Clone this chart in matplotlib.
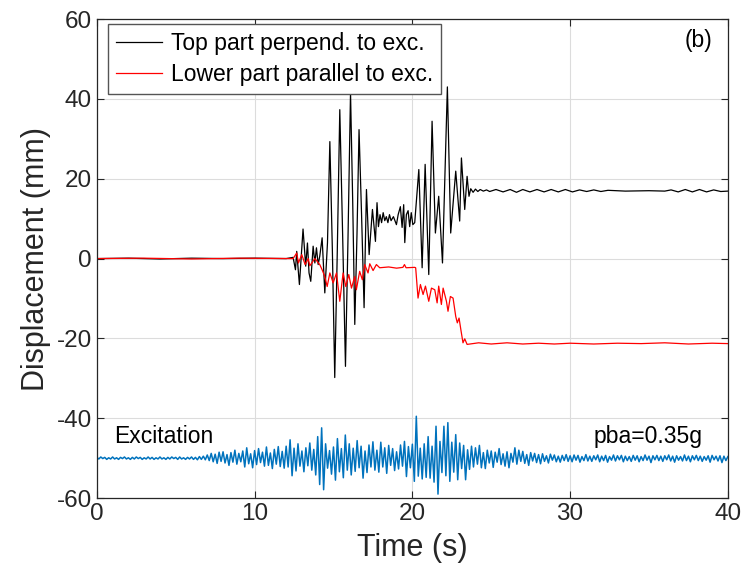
import matplotlib
matplotlib.use('Agg')
import matplotlib.pyplot as plt
import numpy as np

plt.rcParams['font.family'] = ['Liberation Sans', 'DejaVu Sans']
plt.rcParams['axes.unicode_minus'] = False

# top part (perpendicular to excitation): time (s), displacement (mm)
top_t = [0, 2, 4, 6, 8, 10, 12, 12.44, 12.59, 12.67, 12.84, 13.07, 13.24, 13.35, 13.45,
         13.56, 13.71, 13.82, 13.92, 14.03, 14.13, 14.28, 14.45, 14.62, 14.77, 14.93,
         15.08, 15.24, 15.40, 15.58, 15.76, 15.92, 16.08, 16.22, 16.35, 16.49, 16.62,
         16.78, 16.94, 17.09, 17.26, 17.47, 17.66, 17.76, 17.85,
         17.95, 18.05, 18.15, 18.25, 18.35, 18.45, 18.55, 18.65, 18.80, 18.99, 19.10,
         19.24, 19.35, 19.45, 19.52, 19.62, 19.73, 19.83, 19.93, 20.03, 20.15, 20.41,
         20.62, 20.81, 21.04, 21.25, 21.46, 21.67, 21.91, 22.22, 22.43, 22.75, 23.00,
         23.11, 23.32, 23.47, 23.59, 23.70, 23.85, 24.00, 24.15, 24.30, 24.50, 24.70,
         24.90, 25.30, 25.75, 26.20, 26.60, 27.00, 27.45, 27.90, 28.35, 28.80, 29.25,
         29.70, 30.15, 30.60, 31.05, 31.50, 31.95, 32.40, 33.50, 35.00, 36.00, 36.40,
         36.85, 37.30, 37.75, 38.20, 38.65, 39.10, 39.55, 40.0]
top_d = [0.0, 0.1, -0.1, 0.1, 0.0, 0.1, 0.0, 0.3, -2.8, 1.8, -6.5, 7.4, -1.9, 3.9, -3.6,
         -5.7, 3.1, -1.1, 2.7, -1.5, 0.6, 5.2, -8.6, 4.0, 29.3, 2.0,
         -29.8, 1.5, 37.3, 6.0, -27.0, 5.0, 41.6, 14.0, -16.5, 6.0, 32.3,
         11.0, -12.3, 17.3, 1.0, 12.3, 4.3, 14.0, 8.0,
         11.0, 9.0, 11.5, 9.5, 10.5, 9.0, 11.0, 9.5, 10.5, 8.5, 11.0,
         13.0, 7.8, 13.5, 4.0, 11.0, 12.0, 8.0, 11.5, 8.5, 9.0, 22.3,
         -2.3, 23.6, -4.0, 34.4, 6.4, 15.6, -1.1, 43.0, 6.4, 21.9, 9.4,
         25.2, 12.3, 20.6, 15.6, 17.5, 16.6, 17.4, 16.8, 17.3, 16.9, 17.2,
         16.8, 17.3, 16.7, 17.3, 16.6, 17.3, 16.7, 17.3, 16.7, 17.3, 16.7,
         17.3, 16.7, 17.2, 16.8, 17.2, 16.8, 17.1, 16.9, 17.0, 16.9, 17.2,
         16.7, 17.3, 16.7, 17.3, 16.7, 17.2, 16.8, 16.9]

# lower part (parallel to excitation)
low_t = [0, 3, 6, 9, 12.44, 12.67, 12.78, 12.99, 13.2, 13.4, 13.5, 13.82, 14.13, 14.28,
         14.45, 14.60, 14.77, 14.98, 15.19, 15.40, 15.61, 15.78, 15.97, 16.14, 16.35,
         16.45, 16.66, 16.83, 16.98, 17.19, 17.30, 17.51, 17.72, 17.93, 18.5, 19.0,
         19.4, 19.5, 19.6, 20.15, 20.21, 20.30, 20.36, 20.51, 20.68, 20.83, 21.04,
         21.21, 21.42, 21.57, 21.67, 21.84, 21.95, 22.16, 22.26, 22.41, 22.58, 22.75,
         22.85, 22.96, 23.09, 23.21, 23.32, 23.47, 24.2, 25.0, 26.0, 27.0, 28.0, 29.0,
         30.0, 31.5, 33.0, 34.5, 36.0, 37.5, 39.0, 40.0]
low_d = [0.0, 0.1, -0.1, 0.1, 0.0, 1.4, -1.1, 1.0, -1.5, 0.0, -1.8, 0.0, -1.5, -2.8,
         -4.5, -7.0, -3.6, -6.1, -3.6, -10.7, -3.6, -7.0, -4.0, -7.4, -4.5,
         -7.8, -3.2, -5.3, -1.5, -3.6, -1.3, -3.0, -1.5, -2.3, -2.1, -2.4,
         -2.2, -1.5, -2.3, -2.2, -2.3, -6.9, -9.9, -6.5, -9.0, -6.9, -10.7,
         -7.4, -7.8, -11.1, -6.9, -11.5, -7.4, -10.7, -13.2, -9.5, -9.9, -14.5,
         -16.1, -14.9, -18.2, -21.1, -20.1, -21.5, -21.1, -21.4, -21.1, -21.4, -21.2, -21.4,
         -21.2, -21.4, -21.2, -21.3, -21.1, -21.4, -21.2, -21.3]

# excitation, deviation about its plotting offset, one value every 0.125 s
exc_dt = 0.125
exc_offset = -50
exc_d = [
    0.2, -0.2, 0.3, -0.1, 0.2, -0.3, 0.1, -0.2, 0.3, -0.2, 0.1, -0.3, 0.2, -0.1, 0.3, -0.2,
    0.1, -0.3, 0.2, -0.2, 0.3, -0.1, 0.2, -0.3, 0.1, -0.2, 0.3, -0.2, 0.2, -0.3, 0.1, -0.2,
    0.3, -0.2, 0.1, -0.3, 0.2, -0.2, 0.3, -0.1, 0.2, -0.3, 0.3, -0.2, 0.1, -0.3, 0.2, -0.2,
    0.3, -0.3, 0.2, -0.4, 0.4, -0.3, 0.5, -0.4, 0.8, -0.6, 1.2, -0.9, 1.0, -1.3, 1.5, -0.8,
    1.6, -1.2, 0.9, -1.8, 1.4, -1.0, 2.0, -1.5, 1.2, -0.9, 1.8, -2.2, 2.6, -1.4, 1.1, -2.4,
    1.9, -1.6, 2.4, -1.1, 1.5, -2.0, 2.8, -1.8, 1.3, -2.6, 2.2, -1.5, 2.9, -2.1, 1.7, -2.5,
    3.0, -2.2, 4.6, -4.4, 2.5, -3.2, 3.6, -2.0, 1.8, -3.4, 2.6, -1.9, 3.8, -3.0, 2.2, -4.2,
    5.4, -6.6, 7.6, -7.9, 3.6, -2.5, 1.9, -4.0, 2.8, -5.5, 4.9, -3.4, 2.4, -4.9, 5.8, -3.0,
    3.6, -4.2, 2.5, -3.3, 4.4, -2.4, 3.0, -5.0, 1.8, -3.6, 3.3, -2.2, 4.1, -3.0, 2.0, -3.5,
    4.0, -2.2, 2.6, -3.8, 3.2, -1.8, 2.4, -3.1, 1.6, -2.7, 3.3, -2.0, 4.2, -4.6, 2.9, -2.4,
    3.5, -5.8, 10.5, -4.5, 2.5, -5.2, 3.6, -4.8, 5.4, -5.0, 3.0, -6.0, 8.0, -9.0, 4.2, -3.6,
    8.0, -4.4, 8.9, -5.8, 4.0, -3.5, 5.9, -5.4, 3.8, -2.6, 3.2, -5.4, 2.1, -2.8, 3.0, -2.2,
    2.6, -1.5, 3.2, -2.4, 1.4, -2.6, 2.0, -1.2, 1.8, -2.3, 1.5, -1.0, 2.4, -1.6, 1.1, -2.0,
    1.6, -2.4, 1.2, -1.0, 2.6, -1.5, 2.0, -0.8, 1.7, -1.3, 0.9, -1.8, 1.4, -0.7, 1.2, -1.1,
    0.9, -1.4, 1.1, -0.8, 0.6, -1.2, 1.0, -0.5, 0.8, -0.9, 0.5, -1.0, 0.7, -0.6, 0.9, -0.8,
    0.6, -0.9, 0.8, -0.5, 0.7, -1.0, 0.4, -0.6, 0.9, -0.7, 0.5, -0.8, 0.6, -0.4, 0.8, -0.9,
    0.5, -0.6, 0.7, -1.0, 0.4, -0.5, 0.8, -0.7, 0.6, -0.4, 0.7, -0.9, 0.5, -0.6, 0.4, -0.8,
    0.7, -0.5, 0.6, -0.9, 0.4, -0.6, 0.8, -0.5, 0.5, -1.1, 0.6, -0.4, 0.7, -0.6, 0.5, -0.8,
    0.6, -0.4, 0.8, -0.7, 0.5, -1.0, 0.6, -0.5, 0.4, -0.7, 0.8, -0.6, 0.5, -0.9, 0.6, -0.4,
    0.7, -0.6, 0.5, -0.8, 0.4, -0.5, 0.6, -1.0, 0.7, -0.4, 0.5, -0.7, 0.6, -1.1, 0.5, -0.6,
    0.4]
exc_t = np.arange(len(exc_d)) * exc_dt

x_ticks = [0, 10, 20, 30, 40]
y_ticks = [-60, -40, -20, 0, 20, 40, 60]

fig = plt.figure(figsize=(7.45, 5.86), dpi=100)
ax = fig.add_axes([0.130, 0.150, 0.847, 0.8175])

ax.plot(exc_t, np.array(exc_d) + exc_offset, color='#0072BD', lw=1.1)
ax.plot(top_t, top_d, color='k', lw=0.9, label='Top part perpend. to exc.')
ax.plot(low_t, low_d, color='r', lw=0.9, label='Lower part parallel to exc.')

ax.set_xlim(0, 40)
ax.set_ylim(-60, 60)
ax.set_xticks(x_ticks)
ax.set_yticks(y_ticks)
ax.grid(True, color='#dcdcdc', lw=0.8)
ax.set_axisbelow(True)
ax.tick_params(direction='in', top=True, right=True, length=5, labelsize=17.5,
               colors='#262626', width=0.8)
for s in ax.spines.values():
    s.set_color('#262626')
    s.set_linewidth(0.9)

ax.set_xlabel('Time (s)', fontsize=22, color='#262626', labelpad=6)
ax.set_ylabel('Displacement (mm)', fontsize=22, color='#262626', labelpad=4)

leg = ax.legend(loc='upper left', bbox_to_anchor=(0.018, 0.99), fontsize=16.5,
                handlelength=2.0, labelspacing=0.35, borderpad=0.35,
                handletextpad=0.4, borderaxespad=0.0, fancybox=False, framealpha=1)
leg.get_frame().set_edgecolor('#555555')
leg.get_frame().set_linewidth(1.0)

ax.text(0.975, 0.955, '(b)', transform=ax.transAxes, ha='right', va='center', fontsize=16.5)
ax.text(0.028, 0.128, 'Excitation', transform=ax.transAxes, ha='left', va='center', fontsize=16.5)
ax.text(0.96, 0.128, 'pba=0.35g', transform=ax.transAxes, ha='right', va='center', fontsize=16.5)

fig.savefig('out.png', dpi=100)
